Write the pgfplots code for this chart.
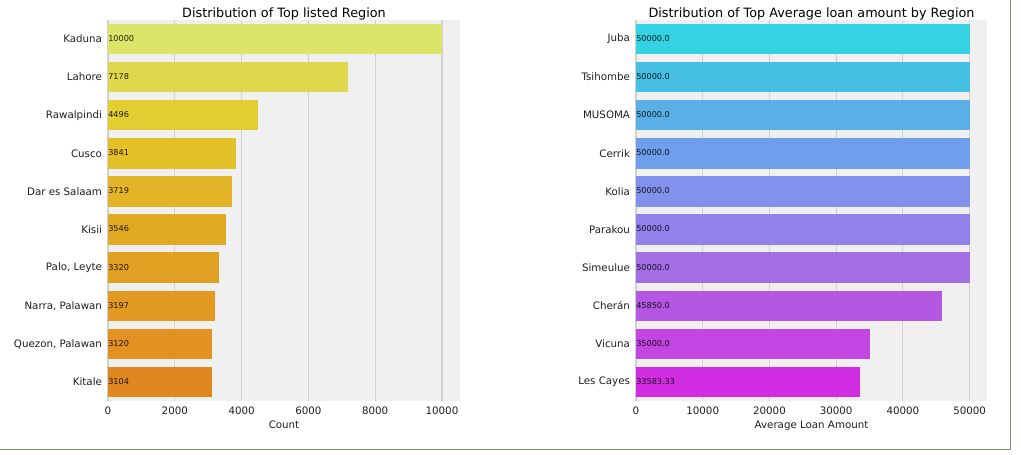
\documentclass[border=0pt]{standalone}
\usepackage{pgfplots}
\pgfplotsset{compat=1.18}
\usepackage{pgfplotstable}
\usepackage{fontspec}
\setmainfont{DejaVu Sans}

\definecolor{bgc}{RGB}{240,240,240}
\definecolor{gridc}{RGB}{208,208,208}
\definecolor{txt}{RGB}{30,30,30}
\definecolor{frame}{RGB}{118,152,108}
% left palette
\definecolor{L0}{RGB}{220,228,105}
\definecolor{L1}{RGB}{224,216,76}
\definecolor{L2}{RGB}{226,206,48}
\definecolor{L3}{RGB}{226,192,40}
\definecolor{L4}{RGB}{226,180,40}
\definecolor{L5}{RGB}{224,170,34}
\definecolor{L6}{RGB}{224,160,34}
\definecolor{L7}{RGB}{227,154,34}
\definecolor{L8}{RGB}{227,145,34}
\definecolor{L9}{RGB}{224,136,32}
% right palette
\definecolor{R0}{RGB}{52,210,226}
\definecolor{R1}{RGB}{70,192,226}
\definecolor{R2}{RGB}{90,176,230}
\definecolor{R3}{RGB}{110,158,236}
\definecolor{R4}{RGB}{130,146,236}
\definecolor{R5}{RGB}{148,128,236}
\definecolor{R6}{RGB}{164,110,228}
\definecolor{R7}{RGB}{180,88,228}
\definecolor{R8}{RGB}{196,70,226}
\definecolor{R9}{RGB}{208,44,226}

\pgfplotstableread{
y x label
0 0 10000
1 0 7178
2 0 4496
3 0 3841
4 0 3719
5 0 3546
6 0 3320
7 0 3197
8 0 3120
9 0 3104
}\leftlabels

\pgfplotstableread{
y x label
0 0 50000.0
1 0 50000.0
2 0 50000.0
3 0 50000.0
4 0 50000.0
5 0 50000.0
6 0 50000.0
7 0 45850.0
8 0 35000.0
9 0 33583.33
}\rightlabels

\pgfplotsset{
  mystyle/.style={
    scale only axis,
    height=285.75pt,
    ymin=-0.5, ymax=9.5,
    y dir=reverse,
    ytick={0,...,9},
    axis background/.style={fill=bgc},
    axis line style={draw=none},
    major tick length=0pt,
    xmajorgrids,
    grid style={gridc, line width=0.8pt},
    scaled x ticks=false,
    /pgf/number format/assume math mode=true,
    /pgf/number format/1000 sep={},
    tick label style={font=\fontsize{7.7}{9}\selectfont, text=txt},
    xticklabel style={yshift=-1pt},
    yticklabel style={xshift=-1pt},
    label style={font=\fontsize{7.7}{9}\selectfont, text=txt},
    xlabel style={yshift=2.5pt},
    title style={font=\fontsize{9.6}{11}\selectfont, text=black, yshift=-9.5pt},
    every axis plot/.append style={xbar, bar width=0.8, bar shift=0pt, draw=none},
  },
  lbl/.style={draw=none, mark=none, forget plot, nodes near coords, point meta=explicit symbolic,
    every node near coord/.style={anchor=base west, inner sep=0pt, yshift=-1.8pt,
      font=\fontsize{6.1}{7}\selectfont, text=black, text opacity=0.85}},
}

\begin{document}
\begin{tikzpicture}
\path[use as bounding box] (0,0) rectangle (765.75pt,340.5pt);

\begin{axis}[mystyle,
  at={(81pt,39.75pt)}, anchor=south west,
  width=264pt,
  xmin=0, xmax=10540,
  xtick={0,2000,4000,6000,8000,10000},
  yticklabels={Kaduna,Lahore,Rawalpindi,Cusco,Dar es Salaam,Kisii,{Palo, Leyte},{Narra, Palawan},{Quezon, Palawan},Kitale},
  title={Distribution of Top listed Region},
  xlabel={Count},
]
\addplot[fill=L0] coordinates {(10000,0)};
\addplot[fill=L1] coordinates {(7178,1)};
\addplot[fill=L2] coordinates {(4496,2)};
\addplot[fill=L3] coordinates {(3841,3)};
\addplot[fill=L4] coordinates {(3719,4)};
\addplot[fill=L5] coordinates {(3546,5)};
\addplot[fill=L6] coordinates {(3320,6)};
\addplot[fill=L7] coordinates {(3197,7)};
\addplot[fill=L8] coordinates {(3120,8)};
\addplot[fill=L9] coordinates {(3104,9)};
\addplot[lbl, xbar=false] table[x=x, y=y, meta=label] {\leftlabels};
\end{axis}

\begin{axis}[mystyle,
  at={(477pt,39.75pt)}, anchor=south west,
  width=263.25pt,
  xmin=0, xmax=52600,
  xtick={0,10000,20000,30000,40000,50000},
  yticklabels={Juba,Tsihombe,MUSOMA,Cerrik,Kolia,Parakou,Simeulue,Cherán,Vicuna,Les Cayes},
  title={Distribution of Top Average loan amount by Region},
  xlabel={Average Loan Amount},
]
\addplot[fill=R0] coordinates {(50000,0)};
\addplot[fill=R1] coordinates {(50000,1)};
\addplot[fill=R2] coordinates {(50000,2)};
\addplot[fill=R3] coordinates {(50000,3)};
\addplot[fill=R4] coordinates {(50000,4)};
\addplot[fill=R5] coordinates {(50000,5)};
\addplot[fill=R6] coordinates {(50000,6)};
\addplot[fill=R7] coordinates {(45850,7)};
\addplot[fill=R8] coordinates {(35000,8)};
\addplot[fill=R9] coordinates {(33583.33,9)};
\addplot[lbl, xbar=false] table[x=x, y=y, meta=label] {\rightlabels};
\end{axis}

\draw[frame, line width=1.1pt] (0,3.5pt) -- (758pt,3.5pt) -- (758pt,340.5pt);
\end{tikzpicture}
\end{document}
